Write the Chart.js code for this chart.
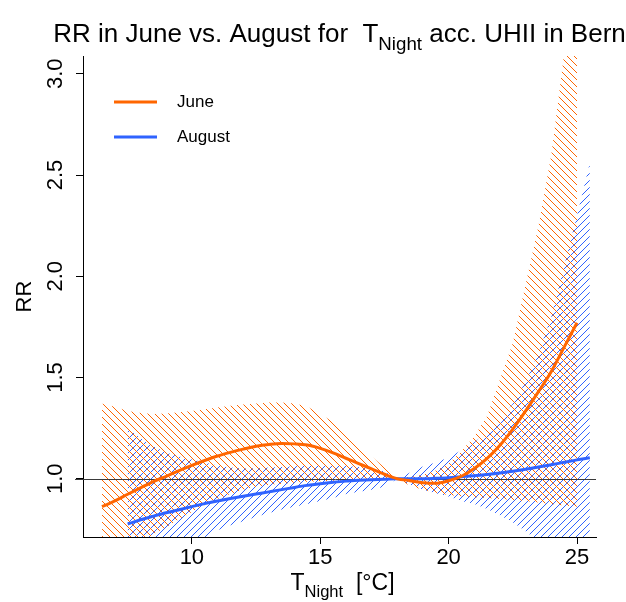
<!DOCTYPE html>
<html>
<head>
<meta charset="utf-8">
<script src="https://cdn.jsdelivr.net/npm/chart.js@4.4.0/dist/chart.umd.min.js"></script>
<style>
  html, body { margin: 0; padding: 0; background: #fff; }
</style>
</head>
<body>
<canvas id="rr-chart" width="626" height="602"></canvas>
<script>
// values (RR vs night temperature)
var juneT = [6.5, 7, 7.5, 8, 8.5, 9, 9.5, 10, 10.5, 11, 11.5, 12, 12.5, 13, 13.5, 14, 14.5, 15, 15.5,
  16, 16.5, 17, 17.5, 18, 18.5, 19, 19.5, 20, 20.5, 21, 21.5, 22, 22.5, 23, 23.5, 24, 24.5, 25];
var juneRR = [0.862, 0.89, 0.923, 0.955, 0.986, 1.012, 1.04, 1.066, 1.09, 1.112, 1.13, 1.146, 1.16, 1.169,
  1.174, 1.172, 1.166, 1.15, 1.128, 1.101, 1.075, 1.048, 1.022, 1.0, 0.99, 0.98, 0.977, 0.99, 1.012, 1.05,
  1.10, 1.165, 1.245, 1.335, 1.43, 1.53, 1.65, 1.77];
var juneHi = [1.37, 1.355, 1.335, 1.325, 1.32, 1.322, 1.328, 1.335, 1.343, 1.352, 1.36, 1.366, 1.372, 1.376,
  1.377, 1.372, 1.355, 1.32, 1.28, 1.225, 1.17, 1.11, 1.055, 1.0, 1.01, 1.02, 1.04, 1.075, 1.135, 1.21,
  1.31, 1.49, 1.67, 1.96, 2.25, 2.6, 3.1, 3.6];
var juneLo = [0.55, 0.6, 0.64, 0.685, 0.725, 0.76, 0.8, 0.835, 0.87, 0.9, 0.925, 0.945, 0.96, 0.97, 0.975,
  0.98, 0.985, 0.987, 0.99, 0.99, 0.992, 0.994, 0.997, 1.0, 0.965, 0.945, 0.93, 0.92, 0.913, 0.908, 0.905,
  0.9, 0.895, 0.89, 0.882, 0.875, 0.868, 0.862];

var augT = [7.5, 8, 8.5, 9, 9.5, 10, 10.5, 11, 11.5, 12, 12.5, 13, 13.5, 14, 14.5, 15, 15.5, 16, 16.5,
  17, 17.5, 18, 18.5, 19, 19.5, 20, 20.5, 21, 21.5, 22, 22.5, 23, 23.5, 24, 24.5, 25, 25.5];
var augRR = [0.776, 0.797, 0.815, 0.832, 0.847, 0.862, 0.877, 0.89, 0.902, 0.913, 0.924, 0.935, 0.946, 0.957,
  0.967, 0.975, 0.982, 0.988, 0.992, 0.995, 0.997, 1.0, 1.0, 1.0, 1.002, 1.005, 1.01, 1.015, 1.021, 1.028,
  1.037, 1.047, 1.058, 1.069, 1.081, 1.093, 1.103];
var augHi = [1.25, 1.2, 1.16, 1.13, 1.11, 1.095, 1.08, 1.065, 1.055, 1.05, 1.052, 1.055, 1.058, 1.062, 1.065,
  1.067, 1.066, 1.063, 1.058, 1.05, 1.035, 1.0, 1.03, 1.06, 1.08, 1.105, 1.14, 1.18, 1.23, 1.29, 1.37,
  1.48, 1.62, 1.8, 2.05, 2.3, 2.56];
var augLo = [0.48, 0.54, 0.58, 0.615, 0.65, 0.68, 0.71, 0.745, 0.77, 0.79, 0.812, 0.83, 0.848, 0.862, 0.875,
  0.89, 0.905, 0.925, 0.935, 0.945, 0.96, 1.0, 0.97, 0.945, 0.928, 0.912, 0.89, 0.875, 0.85, 0.82, 0.785,
  0.74, 0.69, 0.635, 0.585, 0.52, 0.475];

var xTicks = [10, 15, 20, 25];
var yTicks = [1.0, 1.5, 2.0, 2.5, 3.0];
var seriesNames = ["June", "August"];

var orange = "#ff6600";
var blue = "#2f63ff";
var fontFam = "'Liberation Sans', Arial, Helvetica, sans-serif";

function pts(xs, ys) {
  return xs.map(function (x, i) { return { x: x, y: ys[i] }; });
}

// diagonal hatch like R's polygon(density=, angle=)
function hatch(color, dir, gap) {
  var c = document.createElement("canvas");
  c.width = gap; c.height = gap;
  var g = c.getContext("2d");
  g.strokeStyle = color;
  g.lineWidth = 1;
  g.beginPath();
  for (var k = -1; k <= 1; k++) {
    if (dir > 0) { g.moveTo(k * gap, gap); g.lineTo(k * gap + gap, 0); }
    else { g.moveTo(k * gap, 0); g.lineTo(k * gap + gap, gap); }
  }
  g.stroke();
  return g.createPattern(c, "repeat");
}

// text with a subscript piece, centred on cx
function subText(ctx, parts, cx, base, size) {
  var w = 0;
  parts.forEach(function (p) {
    ctx.font = (p[1] ? size * 0.72 : size) + "px " + fontFam;
    w += ctx.measureText(p[0]).width;
  });
  var x = cx - w / 2;
  ctx.textAlign = "left";
  ctx.textBaseline = "alphabetic";
  parts.forEach(function (p) {
    ctx.font = (p[1] ? size * 0.72 : size) + "px " + fontFam;
    ctx.fillText(p[0], x, p[1] ? base + size * 0.3 : base);
    x += ctx.measureText(p[0]).width;
  });
}

var decor = {
  id: "decor",
  beforeDatasetDraw: function (chart, args) {
    if (args.index !== 1) return;
    var ctx = chart.ctx, a = chart.chartArea;
    var y1 = chart.scales.y.getPixelForValue(1);
    ctx.save();
    ctx.strokeStyle = "#3a3a3a";
    ctx.lineWidth = 1;
    ctx.beginPath();
    ctx.moveTo(a.left - 8, Math.round(y1) + 0.5);
    ctx.lineTo(a.right, Math.round(y1) + 0.5);
    ctx.stroke();
    ctx.restore();
  },
  afterDraw: function (chart) {
    var ctx = chart.ctx, a = chart.chartArea, ys = chart.scales.y;
    var cx = (a.left + a.right) / 2;
    ctx.save();
    ctx.fillStyle = "#000";

    // title
    subText(ctx, [["RR in June vs. August for  T", false], ["Night", true], [" acc. UHII in Bern", false]], cx, 42, 26);

    // x axis title
    subText(ctx, [["T", false], ["Night", true], ["  [\u00b0C]", false]], cx + 3, 590, 23);

    // y tick labels, rotated like R
    ctx.font = "22px " + fontFam;
    ctx.textAlign = "center";
    ctx.textBaseline = "middle";
    yTicks.forEach(function (v) {
      ctx.save();
      ctx.translate(a.left - 27, ys.getPixelForValue(v));
      ctx.rotate(-Math.PI / 2);
      ctx.fillText(v.toFixed(1), 0, 0);
      ctx.restore();
    });

    // y axis title
    ctx.save();
    ctx.translate(25, (a.top + a.bottom) / 2);
    ctx.rotate(-Math.PI / 2);
    ctx.fillText("RR", 0, 0);
    ctx.restore();

    // legend
    var cols = [orange, blue];
    ctx.font = "17px " + fontFam;
    ctx.textAlign = "left";
    seriesNames.forEach(function (name, i) {
      var ly = a.top + 46 + i * 35;
      ctx.strokeStyle = cols[i];
      ctx.lineWidth = 3;
      ctx.beginPath();
      ctx.moveTo(a.left + 31, ly);
      ctx.lineTo(a.left + 74, ly);
      ctx.stroke();
      ctx.fillText(name, a.left + 94, ly);
    });
    ctx.restore();
  }
};

var axisGrid = { drawOnChartArea: false, drawTicks: true, tickLength: 7, color: "#000", lineWidth: 1 };
var axisBorder = { display: true, color: "#000", width: 1 };

new Chart(document.getElementById("rr-chart"), {
  type: "line",
  data: {
    datasets: [
      { label: "June", data: pts(juneT, juneRR), borderColor: orange, borderWidth: 3, pointRadius: 0,
        fill: false, cubicInterpolationMode: "monotone" },
      { label: "August", data: pts(augT, augRR), borderColor: blue, borderWidth: 3, pointRadius: 0,
        fill: false, cubicInterpolationMode: "monotone" },
      { label: "June upper", data: pts(juneT, juneHi), borderColor: "transparent", borderWidth: 0,
        pointRadius: 0, fill: "+1", backgroundColor: hatch(orange, -1, 7) },
      { label: "June lower", data: pts(juneT, juneLo), borderColor: "transparent", borderWidth: 0,
        pointRadius: 0, fill: false },
      { label: "August upper", data: pts(augT, augHi), borderColor: "transparent", borderWidth: 0,
        pointRadius: 0, fill: "+1", backgroundColor: hatch(blue, 1, 7) },
      { label: "August lower", data: pts(augT, augLo), borderColor: "transparent", borderWidth: 0,
        pointRadius: 0, fill: false }
    ]
  },
  options: {
    responsive: false,
    animation: false,
    layout: { padding: { top: 56, right: 30, left: 0, bottom: 0 } },
    plugins: {
      legend: { display: false },
      title: { display: false },
      tooltip: { enabled: false }
    },
    scales: {
      x: {
        type: "linear",
        min: 5.76,
        max: 25.74,
        afterBuildTicks: function (s) { s.ticks = xTicks.map(function (v) { return { value: v }; }); },
        afterFit: function (s) { s.height = 65; },
        grid: axisGrid,
        border: axisBorder,
        ticks: { color: "#000", font: { family: fontFam, size: 22 }, padding: 1, maxRotation: 0, autoSkip: false }
      },
      y: {
        type: "linear",
        min: 0.712,
        max: 3.088,
        afterBuildTicks: function (s) { s.ticks = yTicks.map(function (v) { return { value: v }; }); },
        afterFit: function (s) { s.width = 83; },
        grid: axisGrid,
        border: axisBorder,
        ticks: { display: false }
      }
    }
  },
  plugins: [decor]
});
</script>
</body>
</html>
